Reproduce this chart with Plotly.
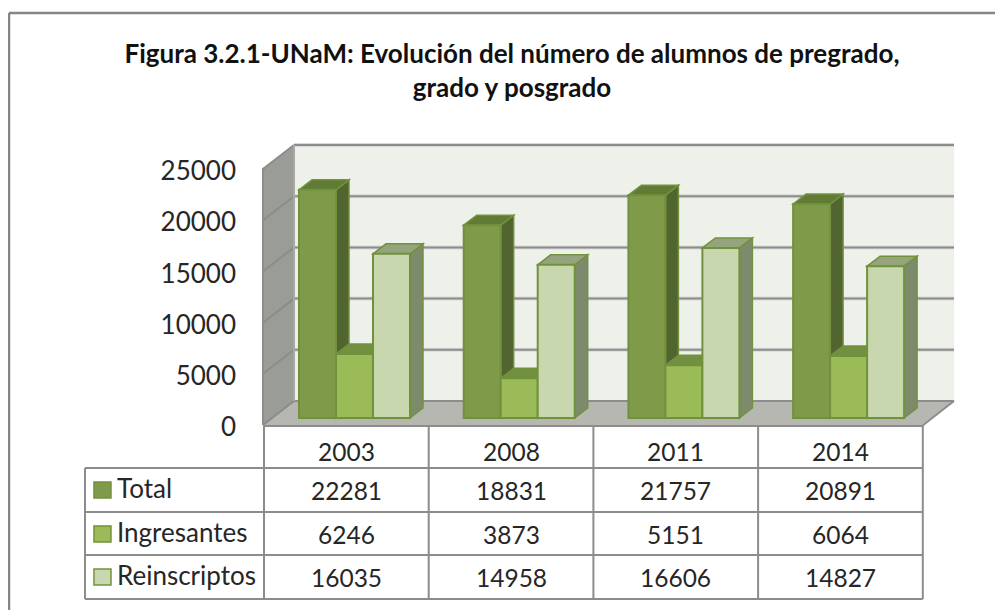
import plotly.graph_objects as go

categories = ["2003", "2008", "2011", "2014"]
total = [22281, 18831, 21757, 20891]
ingresantes = [6246, 3873, 5151, 6064]
reinscriptos = [16035, 14958, 16606, 14827]
y_ticks = [0, 5000, 10000, 15000, 20000, 25000]
title_text = "Figura 3.2.1-UNaM: Evolución del número de alumnos de pregrado,<br>grado y posgrado"

series = [
    ("Total", total, "#7F9A48", "#52642F", "#617B35"),
    ("Ingresantes", ingresantes, "#9BBB59", "#6F8C3C", "#738F40"),
    ("Reinscriptos", reinscriptos, "#C8D7AD", "#7E8A6C", "#96A47D"),
]

# the page keeps its 8px body margin, so the figure starts at (8, 8)
PAGE = 8
W, H = 995, 602
FONT = "Lato, Carlito, Calibri, sans-serif"
TXT = "#262626"
GRID = "#8C8C8C"
EDGE = "#71923D"

# pixel scales of the plot (window coordinates)
GROUP = 164.7
X0 = 354.5            # px centre of first group
BAR = 37.0
PXV = 0.01024         # px per unit value
BASE = 418.0          # px of value 0 at the bars' front
FRONT = 425.0         # px of value 0 on the front plane
BACK = 401.0          # px of value 0 on the back wall
LABEL0 = 427.0        # px of the "0" label on the value axis
DX, DY = 13 / GROUP, 10 / PXV


def px(x):
    return (x - PAGE) / W


def py(y):
    return 1 - (y - PAGE) / H


def poly(pts):
    return "M" + "L".join(f"{a:.4f},{b:.4f}" for a, b in pts) + "Z"


shapes = []


def paper_poly(pts, fill, line=None, width=0):
    shapes.append(dict(type="path", xref="paper", yref="paper", layer="below",
                       path=poly([(px(a), py(b)) for a, b in pts]), fillcolor=fill,
                       line=dict(color=line or fill, width=width)))


def paper_line(x0, y0, x1, y1, color=GRID, width=2):
    shapes.append(dict(type="line", xref="paper", yref="paper", layer="below",
                       x0=px(x0), y0=py(y0), x1=px(x1), y1=py(y1),
                       line=dict(color=color, width=width)))


# walls and floor
paper_poly([(294, 145), (954, 145), (954, 401), (294, 401)], "#EEF1EA")
paper_poly([(263, 168), (294, 145), (294, 401), (263, 425)], "#9A9C96")
paper_poly([(263, 425), (294, 401), (954, 401), (922, 425)], "#B5B7B0")

for v in y_ticks:
    b = BACK - v * PXV
    f = FRONT - v * PXV
    if v > 0:
        paper_line(294, b, 954, b, "#D9D9D9", 4)
    paper_line(294, b, 954, b, GRID, 2)
    paper_line(263, f, 294, b)
paper_line(263, 168, 263, 425)
paper_line(294, 145, 294, 401, "#A8A8A8", 2)
paper_line(263, 426, 922, 426)
paper_line(922, 426, 954, 401)

# table
table_rows = [468, 512, 555, 599]
table_cols = [264 + GROUP * i for i in range(len(categories) + 1)]
for y in table_rows:
    paper_line(85, y, table_cols[-1], y)
for x in table_cols:
    paper_line(x, 426, x, 599)
paper_line(85, 468, 85, 599)

# chart frame: top and left edges only, the right side is cut off in the reference
paper_line(9, 13, 1003, 13, "#868686", 2.5)
paper_line(9, 13, 9, 610, "#868686", 2.5)

# depth faces of the bars, from the values
w = BAR / GROUP
for s, (name, vals, front, side, top) in enumerate(series):
    base_off = (s - 1.5) * w
    for i, v in enumerate(vals):
        xl, xr = i + base_off, i + base_off + w
        for pts, col in (
            ([(xr, 0), (xr + DX, DY), (xr + DX, v + DY), (xr, v)], side),
            ([(xl, v), (xl + DX, v + DY), (xr + DX, v + DY), (xr, v)], top),
        ):
            shapes.append(dict(type="path", xref="x", yref="y", layer="below",
                               path=poly(pts), fillcolor=col,
                               line=dict(color=EDGE, width=1.5)))

fig = go.Figure()
for name, vals, front, side, top in series:
    fig.add_bar(x=list(range(len(categories))), y=vals, name=name,
                marker=dict(color=front, line=dict(color=EDGE, width=2)),
                hoverinfo="skip", showlegend=False)

# invisible trace carrying the front-plane value axis
fig.add_scatter(x=[0], y=[0], yaxis="y2", mode="markers", marker=dict(opacity=0),
                showlegend=False, hoverinfo="skip")

annotations = []


def text(x, y, s, anchor="center", size=24.5):
    annotations.append(dict(x=px(x), y=py(y), xref="paper", yref="paper", text=s,
                            xanchor=anchor, yanchor="middle", showarrow=False,
                            font=dict(family=FONT, size=size, color=TXT)))


centres = [(table_cols[i] + table_cols[i + 1]) / 2 for i in range(len(categories))]
for c, cat in zip(centres, categories):
    text(c, 451, cat)
row_mid = [490, 534, 577]
for (name, vals, front, side, top), ym in zip(series, row_mid):
    paper_poly([(94, ym - 8), (111, ym - 8), (111, ym + 8), (94, ym + 8)], front, EDGE, 1.5)
    text(115, ym - 2, name, "left", 26)
    for c, v in zip(centres, vals):
        text(c, ym, str(v))

fig.update_layout(
    width=W, height=H, margin=dict(l=0, r=0, t=0, b=0, autoexpand=False),
    paper_bgcolor="white", plot_bgcolor="rgba(0,0,0,0)",
    barmode="group", bargap=1 - 3 * BAR / GROUP, bargroupgap=0,
    title=dict(text=title_text, x=px(512), xanchor="center", y=py(63), yanchor="middle",
               font=dict(family=FONT, size=26, color="#111111", weight="bold")),
    xaxis=dict(domain=[px(X0 - GROUP / 2), px(X0 + GROUP * 3.5)], range=[-0.5, 3.5],
               visible=False, fixedrange=True),
    yaxis=dict(domain=[0, 1], range=[(BASE - PAGE - H) / PXV, (BASE - PAGE) / PXV],
               visible=False, fixedrange=True),
    yaxis2=dict(domain=[0, 1], overlaying="y", anchor="free", position=px(236), side="left",
                range=[(LABEL0 - PAGE - H) / PXV, (LABEL0 - PAGE) / PXV], tickvals=y_ticks,
                ticktext=[str(v) for v in y_ticks], showgrid=False, zeroline=False,
                showline=False, ticks="", tickfont=dict(family=FONT, size=26, color=TXT),
                fixedrange=True),
    shapes=shapes, annotations=annotations,
)
fig.write_html("out.html")
